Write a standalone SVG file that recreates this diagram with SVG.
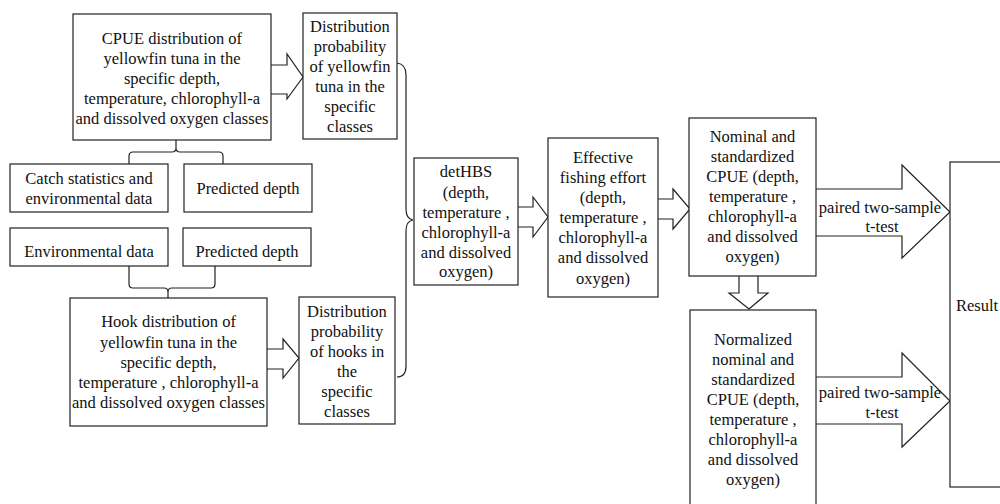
<svg xmlns="http://www.w3.org/2000/svg" width="1000" height="504" viewBox="0 0 1000 504">
<style>
.box{fill:#fff;stroke:#222;stroke-width:1.2}
.arr{fill:#fff;stroke:#222;stroke-width:1.2;stroke-linejoin:miter}
.br{fill:none;stroke:#222;stroke-width:1.2}
text{font-family:"Liberation Serif","Times New Roman",serif;font-size:16.5px;fill:#111}
.c{text-anchor:middle}
</style>
<rect width="1000" height="504" fill="#fff"/>
<g id="connectors">
<polyline class="arr" points="271,65 287,65 287,54 303,77 287,99 287,94 271,94"/>
<polyline class="arr" points="267,349 283,349 283,339 299,358 283,378 283,369 267,369"/>
<polyline class="arr" points="518,207 533,207 533,197 548,217 533,237 533,227 518,227"/>
<polyline class="arr" points="658,199 673,199 673,189 690,209 673,229 673,219 658,219"/>
<polyline class="arr" points="816,189 902,189 902,165 950,212 902,258 902,236 816,236"/>
<polyline class="arr" points="816,377 902,377 902,353 950,401 902,447 902,424 816,424"/>
<polyline class="arr" points="739,276 739,293 729,293 749,309 768,293 758,293 758,276"/>
<path class="br" d="M176,140 L176,148 Q176,152 172,152 L133,152 Q129,152 129,156 L129,164 M176,148 Q176,152 180,152 L219,152 Q223,152 223,156 L223,164"/>
<path class="br" d="M129,266 L129,284 Q129,288 133,288 L164,288 Q168,288 168,292 L168,298 M215,266 L215,284 Q215,288 211,288 L172,288 Q168,288 168,292"/>
<path class="br" d="M397,63 Q406,64 406,75 L406,209 Q406,219 413,220 Q406,221 406,231 L406,366 Q406,377 397,377"/>
<text x="880" y="213" class="c">paired two-sample</text>
<text x="882" y="232" class="c">t-test</text>
<text x="880" y="398" class="c">paired two-sample</text>
<text x="882" y="418" class="c">t-test</text>
</g>
<g id="cpue">
<rect class="box" x="73" y="14" width="198" height="126"/>
<text class="c" x="172" y="44">CPUE distribution of</text>
<text class="c" x="172" y="64">yellowfin tuna in the</text>
<text class="c" x="172" y="84">specific depth,</text>
<text class="c" x="172" y="104">temperature, chlorophyll-a</text>
<text class="c" x="172" y="124">and dissolved oxygen classes</text>
</g>
<g id="dist1">
<rect class="box" x="303" y="13" width="94" height="126"/>
<text class="c" x="350" y="32">Distribution</text>
<text class="c" x="350" y="52">probability</text>
<text class="c" x="350" y="72">of yellowfin</text>
<text class="c" x="350" y="92">tuna in the</text>
<text class="c" x="350" y="112">specific</text>
<text class="c" x="350" y="132">classes</text>
</g>
<g id="catch">
<rect class="box" x="10" y="164" width="158" height="48"/>
<text class="c" x="89" y="184">Catch statistics and</text>
<text class="c" x="89" y="204">environmental data</text>
</g>
<g id="pred1">
<rect class="box" x="184" y="164" width="128" height="48"/>
<text class="c" x="248" y="194">Predicted depth</text>
</g>
<g id="env">
<rect class="box" x="10" y="228" width="158" height="38"/>
<text class="c" x="89" y="257">Environmental data</text>
</g>
<g id="pred2">
<rect class="box" x="183" y="228" width="128" height="38"/>
<text class="c" x="247" y="257">Predicted depth</text>
</g>
<g id="hook">
<rect class="box" x="70" y="298" width="197" height="128"/>
<text class="c" x="168.5" y="327">Hook distribution of</text>
<text class="c" x="168.5" y="348">yellowfin tuna in the</text>
<text class="c" x="168.5" y="368">specific depth,</text>
<text class="c" x="168.5" y="388">temperature , chlorophyll-a</text>
<text class="c" x="168.5" y="408">and dissolved oxygen classes</text>
</g>
<g id="dist2">
<rect class="box" x="299" y="297" width="96" height="127"/>
<text class="c" x="347" y="317">Distribution</text>
<text class="c" x="347" y="337">probability</text>
<text class="c" x="347" y="357">of hooks in</text>
<text class="c" x="347" y="377">the</text>
<text class="c" x="347" y="397">specific</text>
<text class="c" x="347" y="417">classes</text>
</g>
<g id="dethbs">
<rect class="box" x="414" y="158" width="104" height="127"/>
<text class="c" x="466" y="177">detHBS</text>
<text class="c" x="466" y="198">(depth,</text>
<text class="c" x="466" y="218">temperature ,</text>
<text class="c" x="466" y="238">chlorophyll-a</text>
<text class="c" x="466" y="258">and dissolved</text>
<text class="c" x="466" y="277">oxygen)</text>
</g>
<g id="effective">
<rect class="box" x="548" y="138" width="110" height="159"/>
<text class="c" x="603" y="163">Effective</text>
<text class="c" x="603" y="183">fishing effort</text>
<text class="c" x="603" y="203">(depth,</text>
<text class="c" x="603" y="223">temperature ,</text>
<text class="c" x="603" y="243">chlorophyll-a</text>
<text class="c" x="603" y="263">and dissolved</text>
<text class="c" x="603" y="284">oxygen)</text>
</g>
<g id="nominal">
<rect class="box" x="689" y="118" width="127" height="158"/>
<text class="c" x="752.5" y="142">Nominal and</text>
<text class="c" x="752.5" y="162">standardized</text>
<text class="c" x="752.5" y="182">CPUE (depth,</text>
<text class="c" x="752.5" y="202">temperature ,</text>
<text class="c" x="752.5" y="222">chlorophyll-a</text>
<text class="c" x="752.5" y="242">and dissolved</text>
<text class="c" x="752.5" y="262">oxygen)</text>
</g>
<g id="normalized">
<rect class="box" x="690" y="310" width="126" height="200"/>
<text class="c" x="753" y="345">Normalized</text>
<text class="c" x="753" y="365">nominal and</text>
<text class="c" x="753" y="385">standardized</text>
<text class="c" x="753" y="405">CPUE (depth,</text>
<text class="c" x="753" y="425">temperature ,</text>
<text class="c" x="753" y="445">chlorophyll-a</text>
<text class="c" x="753" y="465">and dissolved</text>
<text class="c" x="753" y="485">oxygen)</text>
</g>
<g id="result">
<rect class="box" x="950" y="162" width="60" height="325"/>
<text x="956" y="311">Result</text>
</g>
</svg>
